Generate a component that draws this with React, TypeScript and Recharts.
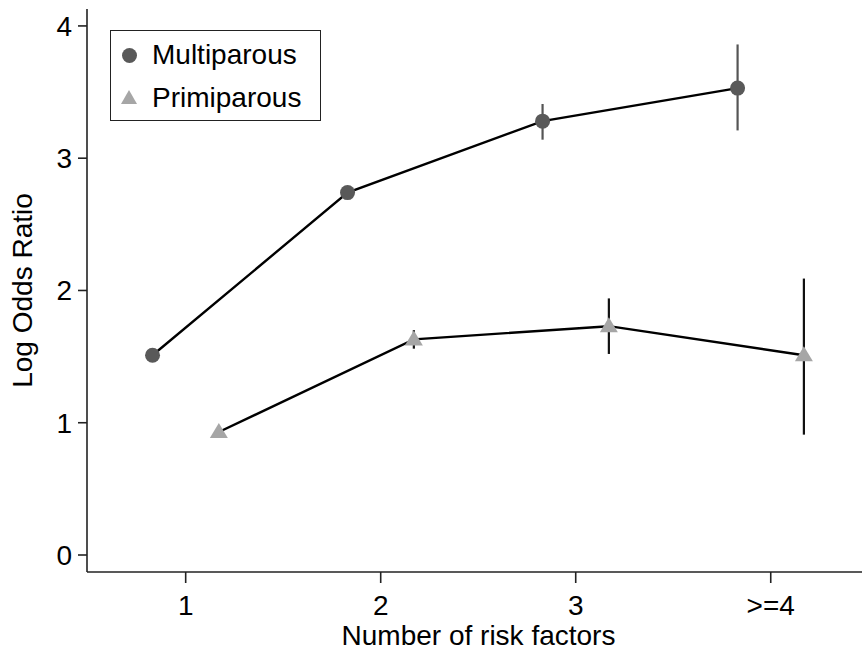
import { ComposedChart, Scatter, XAxis, YAxis, ErrorBar } from "recharts";

// categories on the x axis (1, 2, 3, >=4)
const categories = [1, 2, 3, 4];
const tickLabels = ["1", "2", "3", ">=4"];

// log odds ratios and their confidence limits
const multiValues = [1.51, 2.74, 3.28, 3.53];
const multiLow = [1.47, 2.7, 3.14, 3.21];
const multiHigh = [1.55, 2.78, 3.41, 3.86];

const primiValues = [0.93, 1.63, 1.73, 1.51];
const primiLow = [0.89, 1.56, 1.52, 0.91];
const primiHigh = [0.97, 1.7, 1.94, 2.09];

const SHIFT = 0.17;
const FONT = "'Liberation Sans', Arial, sans-serif";

const multiData = categories.map((c, i) => ({
  x: c - SHIFT,
  y: multiValues[i],
  err: [multiValues[i] - multiLow[i], multiHigh[i] - multiValues[i]],
}));

const primiData = categories.map((c, i) => ({
  x: c + SHIFT,
  y: primiValues[i],
  err: [primiValues[i] - primiLow[i], primiHigh[i] - primiValues[i]],
}));

const Nothing = () => <g />;

const Dot = (props: any) => {
  const { cx, cy } = props;
  return <circle cx={cx} cy={cy} r={7.5} fill="#595959" />;
};

const Tri = (props: any) => {
  const { cx, cy } = props;
  const w = 9;
  return (
    <polygon
      points={`${cx},${cy - 9} ${cx + w},${cy + 6} ${cx - w},${cy + 6}`}
      fill="#a6a6a6"
    />
  );
};

export default function App() {
  return (
    <div style={{ position: "absolute", left: 0, top: 0, width: 862, height: 651, background: "#fff", overflow: "hidden" }}>
      <ComposedChart width={870} height={651} margin={{ top: 9, right: 0, bottom: 0, left: 0 }}>
        <XAxis
          xAxisId="top"
          orientation="top"
          type="number"
          dataKey="x"
          domain={[0.494, 4.509]}
          allowDataOverflow
          tick={false}
          tickLine={false}
          height={0}
          axisLine={{ stroke: "#222", strokeWidth: 1.6 }}
        />
        <XAxis
          type="number"
          dataKey="x"
          domain={[0.494, 4.509]}
          allowDataOverflow
          ticks={categories}
          tickFormatter={(v: number) => tickLabels[categories.indexOf(v)]}
          height={79}
          tickSize={11}
          tickMargin={12}
          axisLine={{ stroke: "#222", strokeWidth: 1.6 }}
          tickLine={{ stroke: "#222", strokeWidth: 1.6 }}
          tick={{ fill: "#000", fontSize: 28, fontFamily: FONT }}
          label={{
            value: "Number of risk factors",
            position: "insideBottom",
            offset: 6,
            style: { fill: "#000", fontSize: 28, fontFamily: FONT },
          }}
        />
        <YAxis
          type="number"
          dataKey="y"
          domain={[-0.1285, 4.128]}
          allowDataOverflow
          ticks={[0, 1, 2, 3, 4]}
          width={87}
          tickSize={9}
          tickMargin={6}
          axisLine={{ stroke: "#222", strokeWidth: 1.6 }}
          tickLine={{ stroke: "#222", strokeWidth: 1.6 }}
          tick={{ fill: "#000", fontSize: 28, fontFamily: FONT }}
          label={{
            value: "Log Odds Ratio",
            angle: -90,
            position: "insideLeft",
            offset: 22,
            style: { fill: "#000", fontSize: 28, fontFamily: FONT, textAnchor: "middle" },
          }}
        />
        <Scatter
          data={multiData}
          line={{ stroke: "#000", strokeWidth: 2.4 }}
          lineType="joint"
          shape={<Nothing />}
          isAnimationActive={false}
        >
          <ErrorBar dataKey="err" direction="y" width={0} stroke="#555" strokeWidth={2.2} />
        </Scatter>
        <Scatter
          data={primiData}
          line={{ stroke: "#000", strokeWidth: 2.4 }}
          lineType="joint"
          shape={<Nothing />}
          isAnimationActive={false}
        >
          <ErrorBar dataKey="err" direction="y" width={0} stroke="#111" strokeWidth={2.2} />
        </Scatter>
        <Scatter data={multiData} shape={<Dot />} isAnimationActive={false} />
        <Scatter data={primiData} shape={<Tri />} isAnimationActive={false} />
      </ComposedChart>
      <div
        style={{
          position: "absolute",
          left: 110,
          top: 30,
          width: 209,
          height: 89,
          border: "1.6px solid #222",
          fontFamily: FONT,
          fontSize: 28,
          color: "#000",
        }}
      >
        <div style={{ position: "absolute", left: 11, top: 17, width: 15, height: 15, borderRadius: "50%", background: "#595959" }} />
        <div style={{ position: "absolute", left: 41, top: 9, lineHeight: "30px" }}>Multiparous</div>
        <svg style={{ position: "absolute", left: 9, top: 58 }} width={18} height={16}>
          <polygon points="9,1 17,15 1,15" fill="#a6a6a6" />
        </svg>
        <div style={{ position: "absolute", left: 41, top: 52, lineHeight: "30px" }}>Primiparous</div>
      </div>
    </div>
  );
}
